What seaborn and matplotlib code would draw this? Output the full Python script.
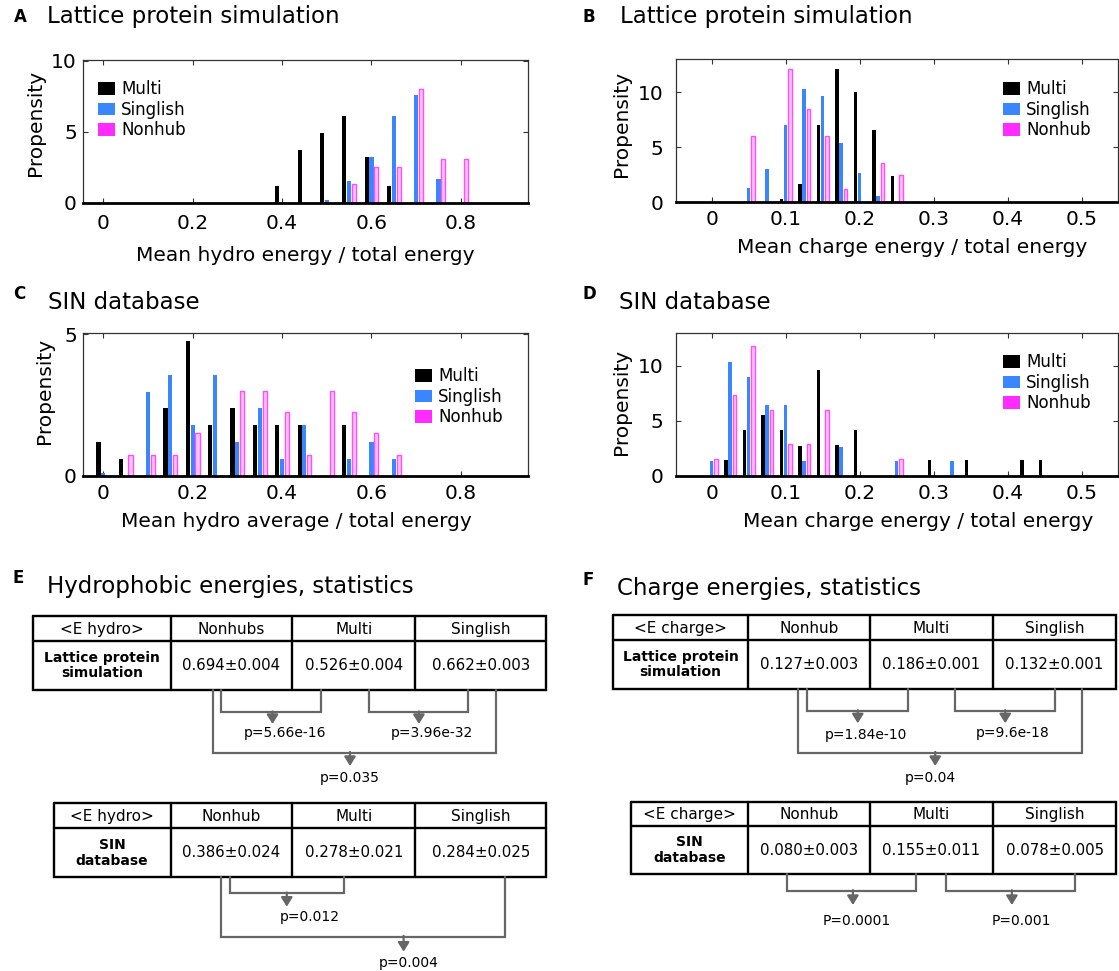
import numpy as np
import pandas as pd
import matplotlib
matplotlib.use("Agg")
import matplotlib.pyplot as plt
from matplotlib.colors import to_rgba
import seaborn as sns

# groups and colours
groups = ["Multi", "Singlish", "Nonhub"]
palette = {"Multi": "#000000", "Singlish": "#3a86ff", "Nonhub": "#ff2bff"}
nonhub_face = "#ffc4f8"
nonhub_edge = "#ff4dff"

# panel A: lattice protein, hydro energy fraction
a_multi_bins = [0.40, 0.45, 0.50, 0.55, 0.60, 0.65]
a_multi_vals = [1.2, 3.7, 4.9, 6.1, 3.2, 1.2]
a_singlish_bins = [0.50, 0.55, 0.60, 0.65, 0.70, 0.75]
a_singlish_vals = [0.2, 1.5, 3.2, 6.1, 7.6, 1.7]
a_nonhub_bins = [0.55, 0.60, 0.65, 0.70, 0.75, 0.80]
a_nonhub_vals = [1.3, 2.5, 2.5, 8.0, 3.1, 3.1]

# panel B: lattice protein, charge energy fraction
b_multi_bins = [0.100, 0.125, 0.150, 0.175, 0.200, 0.225, 0.250]
b_multi_vals = [0.3, 1.7, 7.0, 12.1, 10.0, 6.6, 2.4]
b_singlish_bins = [0.050, 0.075, 0.100, 0.125, 0.150, 0.175, 0.200, 0.225]
b_singlish_vals = [1.3, 3.0, 7.0, 10.3, 9.7, 5.4, 2.7, 0.6]
b_nonhub_bins = [0.050, 0.100, 0.125, 0.150, 0.175, 0.225, 0.250]
b_nonhub_vals = [6.0, 12.1, 8.5, 6.0, 1.2, 3.6, 2.5]

# panel C: SIN database, hydro average fraction
c_multi_bins = [0.00, 0.05, 0.15, 0.20, 0.25, 0.30, 0.35, 0.40, 0.45, 0.55]
c_multi_vals = [1.18, 0.58, 2.38, 4.78, 1.78, 2.38, 1.78, 1.78, 1.78, 1.78]
c_singlish_bins = [0.00, 0.10, 0.15, 0.20, 0.25, 0.30, 0.35, 0.40, 0.45, 0.55, 0.60, 0.65]
c_singlish_vals = [0.1, 2.97, 3.57, 1.78, 3.57, 1.18, 2.38, 0.58, 1.78, 0.58, 1.18, 0.58]
c_nonhub_bins = [0.05, 0.10, 0.15, 0.20, 0.30, 0.35, 0.40, 0.45, 0.50, 0.55, 0.60, 0.65]
c_nonhub_vals = [0.74, 0.74, 0.74, 1.5, 3.0, 3.0, 2.24, 0.74, 3.0, 2.24, 1.5, 0.74]

# panel D: SIN database, charge energy fraction
d_multi_bins = [0.025, 0.050, 0.075, 0.100, 0.125, 0.150, 0.175, 0.200, 0.300, 0.350, 0.425, 0.450]
d_multi_vals = [1.42, 4.13, 5.48, 4.13, 2.74, 9.6, 2.77, 4.13, 1.42, 1.42, 1.42, 1.42]
d_singlish_bins = [0.000, 0.025, 0.050, 0.075, 0.100, 0.125, 0.175, 0.250, 0.325]
d_singlish_vals = [1.3, 10.3, 9.0, 6.45, 6.45, 1.3, 2.6, 1.3, 1.3]
d_nonhub_bins = [0.000, 0.025, 0.050, 0.075, 0.100, 0.125, 0.150, 0.250]
d_nonhub_vals = [1.48, 7.38, 11.8, 5.93, 2.92, 2.92, 5.93, 1.48]

# statistics tables
hydro_lattice_header = ["<E hydro>", "Nonhubs", "Multi", "Singlish"]
hydro_sin_header = ["<E hydro>", "Nonhub", "Multi", "Singlish"]
charge_header = ["<E charge>", "Nonhub", "Multi", "Singlish"]
lattice_label = "Lattice protein\nsimulation"
sin_label = "SIN\ndatabase"
hydro_lattice = ["0.694±0.004", "0.526±0.004", "0.662±0.003"]
hydro_sin = ["0.386±0.024", "0.278±0.021", "0.284±0.025"]
charge_lattice = ["0.127±0.003", "0.186±0.001", "0.132±0.001"]
charge_sin = ["0.080±0.003", "0.155±0.011", "0.078±0.005"]
hydro_lattice_p = ["p=5.66e-16", "p=3.96e-32", "p=0.035"]
hydro_sin_p = ["p=0.012", "p=0.004"]
charge_lattice_p = ["p=1.84e-10", "p=9.6e-18", "p=0.04"]
charge_sin_p = ["P=0.0001", "P=0.001"]

sns.set_style("ticks")
plt.rcParams["font.family"] = ["DejaVu Sans"]
plt.rcParams["text.color"] = "black"
plt.rcParams["axes.labelcolor"] = "black"
plt.rcParams["xtick.color"] = "black"
plt.rcParams["ytick.color"] = "black"

W, H = 1119, 971
fig = plt.figure(figsize=(W / 100, H / 100), dpi=100)


def px_axes(x0, y0, x1, y1):
    return fig.add_axes([x0 / W, 1 - y1 / H, (x1 - x0) / W, (y1 - y0) / H])


def draw_panel(box, bins, vals, width, xlim, ylim, xticks, yticks, xlabel,
               xlab_xy, ylab_xy, leg_xy, xpad, ypad):
    ax = px_axes(*box)
    frames = [pd.DataFrame({"bin": b, "propensity": v, "group": g})
              for b, v, g in zip(bins, vals, groups)]
    df = pd.concat(frames, ignore_index=True)
    sns.barplot(data=df, x="bin", y="propensity", hue="group", hue_order=groups,
                palette=palette, saturation=1, native_scale=True, width=width,
                gap=0.15, errorbar=None, linewidth=0, ax=ax)
    # Nonhub bars drawn pale with a magenta outline
    nh = np.array(to_rgba(palette["Nonhub"]))
    for bar in ax.patches:
        if np.allclose(bar.get_facecolor(), nh, atol=0.02):
            bar.set_facecolor(nonhub_face)
            bar.set_edgecolor(nonhub_edge)
            bar.set_linewidth(1.0)

    ax.set_xlim(*xlim)
    ax.set_ylim(*ylim)
    ax.set_xticks(xticks)
    ax.set_xticklabels(["0" if t == 0 else f"{t:g}" for t in xticks])
    ax.set_yticks(yticks)
    ax.set_yticklabels([str(t) for t in yticks])
    ax.tick_params(direction="in", length=3.5, width=0.8, color="#333333",
                   top=True, right=True, labelsize=14.5, labelcolor="black")
    ax.tick_params(axis="x", pad=xpad)
    ax.tick_params(axis="y", pad=ypad)
    for s in ["top", "right", "left"]:
        ax.spines[s].set_linewidth(0.9)
        ax.spines[s].set_color("#333333")
    ax.spines["bottom"].set_linewidth(2.0)
    ax.spines["bottom"].set_color("black")

    ax.set_xlabel(xlabel, fontsize=14.5)
    ax.xaxis.set_label_coords(*xlab_xy)
    ax.set_ylabel("Propensity", fontsize=14.5)
    ax.yaxis.set_label_coords(*ylab_xy)

    leg = ax.get_legend()
    handles = leg.legend_handles
    labels = [t.get_text() for t in leg.get_texts()]
    leg.remove()
    for h in handles:
        h.set_linewidth(0)
    ax.legend(handles, labels, loc="upper left", bbox_to_anchor=leg_xy,
              frameon=False, fontsize=12, handlelength=1.02, handleheight=0.78,
              handletextpad=0.35, labelspacing=0.15, borderpad=0, borderaxespad=0)
    return ax


charge_ticks = [0, 0.1, 0.2, 0.3, 0.4, 0.5]
hydro_ticks = [0, 0.2, 0.4, 0.6, 0.8]

draw_panel((83.2, 60, 527.9, 202.7),
           [a_multi_bins, a_singlish_bins, a_nonhub_bins],
           [a_multi_vals, a_singlish_vals, a_nonhub_vals],
           0.65, (-0.045, 0.95), (0, 10.05), hydro_ticks, [0, 5, 10],
           "Mean hydro energy / total energy",
           (0.499, -0.30), (-0.087, 0.56), (0.034, 0.858), 8, 4.6)

draw_panel((676.1, 59.3, 1118, 202.3),
           [b_multi_bins, b_singlish_bins, b_nonhub_bins],
           [b_multi_vals, b_singlish_vals, b_nonhub_vals],
           0.67, (-0.048, 0.549), (0, 13), charge_ticks, [0, 5, 10],
           "Mean charge energy / total energy",
           (0.535, -0.25), (-0.103, 0.546), (0.74, 0.854), 5.7, 9)

draw_panel((83.2, 332.7, 527.9, 475.7),
           [c_multi_bins, c_singlish_bins, c_nonhub_bins],
           [c_multi_vals, c_singlish_vals, c_nonhub_vals],
           0.65, (-0.045, 0.95), (0, 5.06), hydro_ticks, [0, 5],
           "Mean hydro average / total energy",
           (0.48, -0.254), (-0.065, 0.59), (0.747, 0.757), 6, 4.5)

draw_panel((676.1, 332.7, 1118, 475.7),
           [d_multi_bins, d_singlish_bins, d_nonhub_bins],
           [d_multi_vals, d_singlish_vals, d_nonhub_vals],
           0.67, (-0.048, 0.549), (0, 13), charge_ticks, [0, 5, 10],
           "Mean charge energy / total energy",
           (0.547, -0.254), (-0.103, 0.517), (0.74, 0.855), 6, 9)

# overlay in pixel coordinates for titles and the statistics tables
ov = fig.add_axes([0, 0, 1, 1])
ov.set_xlim(0, W)
ov.set_ylim(H, 0)
ov.axis("off")

letters = ["A", "B", "C", "D", "E", "F"]
titles = ["Lattice protein simulation", "Lattice protein simulation",
          "SIN database", "SIN database",
          "Hydrophobic energies, statistics", "Charge energies, statistics"]
title_pos = [(14, 21.7, 46.7, 22.5), (582.5, 21.7, 620, 22.7),
             (13, 299, 48, 309), (582, 299, 619, 309),
             (12.5, 583.3, 46.7, 593.3), (583, 585, 617.3, 595)]
for let, tt, (lx, ly, tx, ty) in zip(letters, titles, title_pos):
    ov.text(lx, ly, let, fontsize=12, fontweight="bold", va="baseline", ha="left")
    ov.text(tx, ty, tt, fontsize=16.5, va="baseline", ha="left")


def draw_table(xe, ye, header, row_label, values):
    lw = 1.7
    ov.plot([xe[0], xe[-1], xe[-1], xe[0], xe[0]], [ye[0], ye[0], ye[2], ye[2], ye[0]],
            color="black", lw=lw, solid_joinstyle="miter")
    ov.plot([xe[0], xe[-1]], [ye[1], ye[1]], color="black", lw=lw)
    for x in xe[1:-1]:
        ov.plot([x, x], [ye[0], ye[2]], color="black", lw=lw)
    for i in range(4):
        cx = (xe[i] + xe[i + 1]) / 2
        ov.text(cx, (ye[0] + ye[1]) / 2 + 1, header[i], fontsize=11, ha="center", va="center")
    ov.text((xe[0] + xe[1]) / 2, (ye[1] + ye[2]) / 2, row_label, fontsize=10,
            fontweight="bold", ha="center", va="center", linespacing=1.15)
    for i, v in enumerate(values):
        cx = (xe[i + 1] + xe[i + 2]) / 2
        ov.text(cx, (ye[1] + ye[2]) / 2, v, fontsize=10.8, ha="center", va="center")


grey = "#666666"


def bracket(x1, x2, y0, y1, xa, ya, label, lx, ly):
    ov.plot([x1, x1, x2, x2], [y0, y1, y1, y0], color=grey, lw=1.6,
            solid_joinstyle="miter")
    ov.annotate("", xy=(xa, ya), xytext=(xa, y1 - 0.8),
                arrowprops=dict(arrowstyle="-|>,head_length=0.45,head_width=0.28",
                                color=grey, lw=1.6, shrinkA=0, shrinkB=0,
                                mutation_scale=12))
    ov.text(lx, ly, label, fontsize=10, ha="center", va="center")


# E: hydrophobic energies
e1_x = [33.2, 170.7, 292.1, 415.4, 546.4]
e1_y = [616, 641, 690]
draw_table(e1_x, e1_y, hydro_lattice_header, lattice_label, hydro_lattice)
bracket(221.4, 321.4, 690, 712.3, 272.5, 724, hydro_lattice_p[0], 285, 733.3)
bracket(368.9, 467.9, 690, 712.3, 418.9, 724, hydro_lattice_p[1], 432.1, 733.3)
bracket(213.2, 496.4, 690, 752.7, 350, 766, hydro_lattice_p[2], 349.3, 778.3)

e2_x = [53.6, 170.7, 292.1, 415.4, 546.4]
e2_y = [803.3, 828.3, 877.3]
draw_table(e2_x, e2_y, hydro_sin_header, sin_label, hydro_sin)
bracket(230.4, 343.6, 877.3, 893.3, 286.8, 906.7, hydro_sin_p[0], 310, 916.7)
bracket(221.4, 505.4, 877.3, 936.7, 403.6, 951.7, hydro_sin_p[1], 408.9, 963.3)

# F: charge energies
f1_x = [613.1, 747.9, 870.1, 993.0, 1116.2]
f1_y = [615, 640, 689.3]
draw_table(f1_x, f1_y, charge_header, lattice_label, charge_lattice)
bracket(807.4, 907.9, 689.3, 711, 857.8, 723.3, charge_lattice_p[0], 865.9, 735)
bracket(955.2, 1054.9, 689.3, 711, 1005.2, 723.3, charge_lattice_p[1], 1012.9, 733.3)
bracket(798.3, 1082.3, 689.3, 752.7, 935.2, 766, charge_lattice_p[2], 930.6, 778.3)

f2_x = [631.3, 747.9, 870.1, 993.0, 1116.2]
f2_y = [801.7, 826, 874.3]
draw_table(f2_x, f2_y, charge_header, sin_label, charge_sin)
bracket(787.1, 915.9, 874.3, 891, 852.9, 905, charge_sin_p[0], 857.1, 921)
bracket(945.7, 1075.3, 874.3, 891, 1011.9, 905, charge_sin_p[1], 1021.7, 921)

fig.savefig("out.png", dpi=100)
